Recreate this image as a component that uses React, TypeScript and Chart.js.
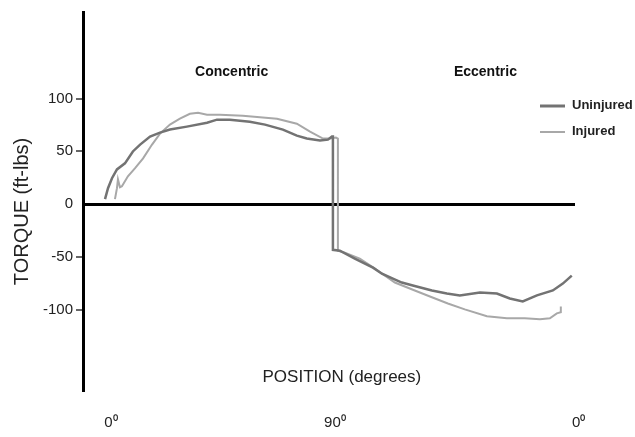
import React, { useEffect, useRef } from "react";
import { Chart, registerables } from "chart.js";

Chart.register(...registerables);

// Position axis: 0 = start (0°), 90 = switch point (90°), 188 = end (back at 0°)
const X_TICK_VALUES = [0, 90, 188];
const X_TICK_LABELS = ["0⁰", "90⁰", "0⁰"];
const Y_TICK_VALUES = [-100, -50, 0, 50, 100];

const UNINJURED_X = [
  -2.4, -1.2, 0.4, 2.4, 5.6, 8.8, 11.7, 15.7, 19.7, 23.7, 30.5, 38.6, 42.6, 47.8,
  55.8, 61.9, 69.1, 74.7, 78.7, 84.0, 87.2, 88.8, 89.2, 89.2, 92.0, 98.0, 105.3,
  108.9, 113.3, 116.9, 121.3, 129.0, 135.0, 140.2, 148.3, 155.1, 160.3, 165.5,
  171.2, 177.6, 181.6, 185.2,
];
const UNINJURED_Y = [
  4.7, 15.1, 24.5, 32.9, 38.6, 49.9, 56.4, 64.0, 67.7, 70.6, 73.4, 77.1, 80.0, 80.0,
  78.1, 75.3, 70.6, 64.9, 62.1, 60.2, 61.1, 64.0, 64.0, -43.3, -44.2, -51.7, -60.2,
  -65.9, -70.6, -74.3, -77.1, -81.8, -84.7, -86.5, -83.7, -84.7, -89.4, -92.2,
  -86.5, -81.8, -75.3, -67.7,
];

const INJURED_X = [
  1.6, 2.4, 2.8, 3.6, 4.4, 6.8, 9.6, 12.9, 16.5, 19.7, 23.7, 27.7, 31.7, 35.0,
  38.6, 43.8, 53.0, 66.7, 74.7, 80.0, 85.2, 88.0, 90.4, 91.2, 91.2, 94.0, 100.0,
  106.1, 114.1, 122.1, 128.2, 135.4, 142.2, 151.1, 159.1, 166.3, 172.4, 176.4,
  179.2, 180.8, 180.8,
];
const INJURED_Y = [
  4.7, 15.1, 23.5, 16.0, 16.9, 26.3, 33.9, 43.3, 56.4, 66.8, 75.3, 80.9, 85.6, 86.5,
  84.7, 84.7, 83.7, 80.9, 76.2, 68.7, 62.1, 62.1, 63.0, 62.1, -44.2, -46.1, -51.7,
  -61.1, -74.3, -81.8, -87.5, -94.1, -99.7, -106.3, -108.2, -108.2, -109.1, -108.2,
  -103.5, -102.5, -96.9,
];

const SERIES_NAMES = ["Uninjured", "Injured"];
const SERIES_COLORS = ["#737373", "#a8a8a8"];
const PHASE_LABELS = ["Concentric", "Eccentric"];
const X_TITLE = "POSITION (degrees)";
const Y_TITLE = "TORQUE (ft-lbs)";

const FONT = "'Liberation Sans', Arial, Helvetica, sans-serif";

function toPoints(xs: number[], ys: number[]) {
  return xs.map((x, i) => ({ x, y: ys[i] }));
}

const annotationsPlugin = {
  id: "annotations",
  afterDraw(chart: any) {
    const ctx = chart.ctx as CanvasRenderingContext2D;
    const xs = chart.scales.x;
    const ys = chart.scales.y;
    ctx.save();
    // Phase labels
    ctx.fillStyle = "#111";
    ctx.font = `bold 14px ${FONT}`;
    ctx.textAlign = "center";
    ctx.textBaseline = "middle";
    ctx.fillText(PHASE_LABELS[0], xs.getPixelForValue(48.5), 72);
    ctx.fillText(PHASE_LABELS[1], xs.getPixelForValue(150.5), 72);
    // X title (drawn inside the plot area, above the tick labels)
    ctx.fillStyle = "#222";
    ctx.font = `17px ${FONT}`;
    ctx.fillText(X_TITLE, xs.getPixelForValue(92.8), 377);
    // Y title
    ctx.save();
    ctx.translate(22, ys.getPixelForValue(-7));
    ctx.rotate(-Math.PI / 2);
    ctx.font = `20px ${FONT}`;
    ctx.fillText(Y_TITLE, 0, 0);
    ctx.restore();
    // Legend
    const lx0 = 540;
    const lx1 = 565;
    const rows = [106, 132];
    ctx.textAlign = "left";
    ctx.font = `bold 13px ${FONT}`;
    rows.forEach((yy, i) => {
      ctx.strokeStyle = SERIES_COLORS[i];
      ctx.lineWidth = i === 0 ? 3 : 2;
      ctx.beginPath();
      ctx.moveTo(lx0, yy);
      ctx.lineTo(lx1, yy);
      ctx.stroke();
      ctx.fillStyle = "#222";
      ctx.fillText(SERIES_NAMES[i], 572, yy - 1);
    });
    ctx.restore();
  },
};

export default function App() {
  const canvasRef = useRef<HTMLCanvasElement | null>(null);

  useEffect(() => {
    document.body.style.margin = "0";
    const canvas = canvasRef.current;
    if (!canvas) return;
    const chart = new Chart(canvas, {
      type: "line",
      data: {
        datasets: [
          {
            label: SERIES_NAMES[0],
            data: toPoints(UNINJURED_X, UNINJURED_Y),
            borderColor: SERIES_COLORS[0],
            borderWidth: 2.5,
            pointRadius: 0,
            tension: 0,
            fill: false,
          },
          {
            label: SERIES_NAMES[1],
            data: toPoints(INJURED_X, INJURED_Y),
            borderColor: SERIES_COLORS[1],
            borderWidth: 2,
            pointRadius: 0,
            tension: 0,
            fill: false,
          },
        ],
      },
      options: {
        animation: false,
        responsive: false,
        events: [],
        layout: { padding: { top: 10, right: 60, left: 0, bottom: 0 } },
        plugins: {
          legend: { display: false },
          tooltip: { enabled: false },
        },
        scales: {
          x: {
            type: "linear",
            min: -11.25,
            max: 186.5,
            position: "bottom",
            border: { display: false },
            grid: { display: false, drawTicks: false },
            afterBuildTicks: (scale: any) => {
              scale.ticks = X_TICK_VALUES.map((v) => ({ value: v }));
            },
            afterFit: (scale: any) => {
              scale.height = 45;
            },
            ticks: {
              padding: 22,
              autoSkip: false,
              maxRotation: 0,
              color: "#222",
              font: { family: FONT, size: 15 },
              callback: (v: any) => {
                const i = X_TICK_VALUES.indexOf(Number(v));
                return i >= 0 ? X_TICK_LABELS[i] : "";
              },
            },
          },
          y: {
            type: "linear",
            min: -178,
            max: 182,
            border: { display: true, color: "#000", width: 3 },
            grid: {
              drawTicks: true,
              tickLength: 7,
              tickWidth: 1.5,
              tickColor: (c: any) => (c.tick && c.tick.value === 0 ? "rgba(0,0,0,0)" : "#333"),
              color: (c: any) => (c.tick && c.tick.value === 0 ? "#000" : "rgba(0,0,0,0)"),
              lineWidth: (c: any) => (c.tick && c.tick.value === 0 ? 3 : 0),
            },
            afterBuildTicks: (scale: any) => {
              scale.ticks = Y_TICK_VALUES.map((v) => ({ value: v }));
            },
            afterFit: (scale: any) => {
              scale.width = 83;
            },
            ticks: {
              padding: 3,
              color: "#222",
              font: { family: FONT, size: 15 },
              callback: (v: any) => String(v),
            },
          },
        },
      },
      plugins: [annotationsPlugin],
    });
    return () => chart.destroy();
  }, []);

  return (
    <div style={{ width: 635, height: 437 }}>
      <canvas ref={canvasRef} width={635} height={437} />
    </div>
  );
}
